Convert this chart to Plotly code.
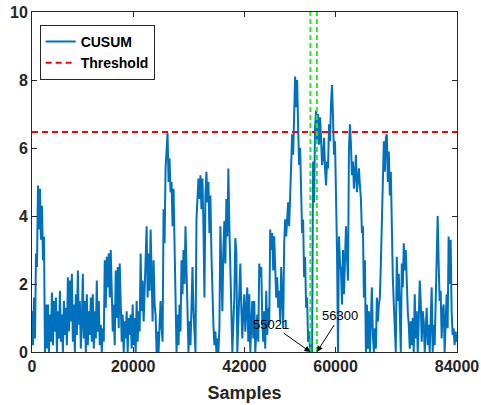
import numpy as np
import plotly.graph_objects as go

# CUSUM statistic, decimated (one value every `sample_step` samples)
cusum = [
    1.2, 0.2, 1.6, 0.4, 2.9, 2.5, 4.9, 3.6, 4.8, 3.3,
    4.3, 2.7, 3.4, 0.0, 1.4, 0.1, 1.4, 0.0, 1.1, 0.3,
    1.75, 0.2, 1.5, 0.6, 1.6, 0.0, 1.2, 0.4, 1.8, 0.3,
    1.1, 0.0, 1.5, 0.5, 1.3, 0.2, 2.2, 0.6, 2.1, 0.9,
    2.3, 0.3, 1.4, 0.0, 1.7, 0.5, 2.4, 0.8, 1.5, 0.1,
    0.9, 2.3, 0.4, 1.5, 0.0, 1.7, 0.2, 1.2, 0.5, 1.6,
    0.3, 1.7, 0.1, 1.2, 0.4, 2.1, 0.6, 1.5, 0.2, 0.8,
    0.0, 0.7, 0.3, 2.7, 1.3, 2.8, 1.9, 2.9, 1.6, 3.0,
    1.8, 0.6, 1.4, 0.2, 2.4, 1.0, 2.5, 0.7, 2.6, 1.2,
    0.3, 1.1, 0.0, 0.9, 0.4, 1.2, 0.0, 1.0, 0.5, 1.1,
    0.1, 1.4, 0.2, 1.0, 0.0, 1.5, 0.3, 1.2, 0.6, 2.9,
    1.2, 2.1, 0.9, 1.8, 2.6, 3.7, 1.6, 2.9, 1.8, 3.6,
    2.3, 0.9, 2.7, 1.4, 1.1, 0.0, 0.6, 0.0, 0.8, 1.5,
    0.7, 0.3, 4.2, 3.2, 5.4, 6.1, 6.45, 5.0, 5.7, 4.7,
    5.0, 3.7, 4.8, 3.2, 1.9, 0.0, 1.1, 0.2, 1.4, 0.6,
    2.7, 1.7, 3.0, 2.0, 3.7, 2.4, 1.5, 0.0, 0.9, 0.2,
    1.3, 2.5, 1.2, 0.5, 0.0, 3.9, 4.6, 5.1, 4.5, 5.2,
    4.2, 5.1, 3.7, 1.6, 4.6, 5.3, 4.4, 5.0, 3.5, 4.6,
    2.9, 1.6, 0.8, 0.2, 0.6, 0.0, 0.4, 0.0, 0.7, 3.7,
    2.4, 1.2, 3.0, 3.85, 2.6, 4.5, 3.4, 5.4, 3.7, 2.3,
    1.1, 0.0, 0.8, 1.6, 3.35, 2.9, 0.0, 0.9, 1.6, 2.6,
    1.3, 0.4, 1.2, 1.7, 0.6, 1.4, 1.9, 0.3, 1.7, 0.0,
    0.9, 1.5, 0.4, 1.5, 0.0, 0.7, 1.1, 0.3, 2.6, 2.2,
    2.5, 1.0, 0.3, 1.2, 0.1, 1.8, 0.5, 1.3, 0.8, 3.6,
    3.0, 3.5, 2.4, 3.4, 2.5, 1.6, 2.2, 1.3, 1.8, 0.9,
    2.5, 1.7, 0.7, 3.2, 3.9, 3.4, 3.9, 4.4, 3.7, 4.6,
    5.2, 6.4, 5.8, 6.9, 8.1, 7.2, 8.0, 6.6, 5.5, 6.0,
    4.6, 3.5, 3.9, 2.2, 2.8, 1.3, 1.6, 0.3, 0.6, 0.0,
    0.2, 0.0, 5.6, 4.4, 6.6, 7.1, 6.2, 7.0, 6.1, 6.9,
    6.3, 5.5, 5.7, 6.3, 5.4, 4.9, 5.6, 5.4, 6.7, 6.2,
    7.3, 7.85, 6.9, 5.8, 6.2, 4.7, 3.0, 0.0, 3.4, 2.6,
    2.4, 1.4, 3.0, 1.7, 2.8, 3.7, 2.8, 2.1, 6.0, 6.7,
    6.1, 5.2, 5.6, 4.8, 5.2, 5.8, 4.7, 5.0, 5.4, 4.9,
    4.5, 3.5, 3.7, 1.6, 2.7, 0.0, 1.4, 0.1, 1.2, 0.0,
    1.4, 1.9, 0.5, 0.0, 0.7, 0.1, 1.6, 0.9, 1.4, 1.6,
    2.6, 3.6, 5.0, 6.2, 5.3, 6.3, 6.4, 5.0, 5.9, 4.6,
    5.3, 3.4, 2.2, 1.4, 0.5, 0.0, 2.8, 1.5, 2.3, 0.6,
    0.0, 2.6, 1.9, 3.2, 2.4, 3.0, 1.9, 1.2, 0.8, 0.1,
    0.9, 0.2, 1.0, 0.0, 1.7, 0.4, 1.2, 0.0, 0.9, 2.1,
    1.5, 0.3, 1.2, 0.9, 0.0, 1.0, 1.3, 0.2, 0.8, 0.0,
    1.4, 1.9, 0.0, 0.8, 0.2, 1.3, 2.1, 4.0, 2.6, 1.5,
    1.8, 0.4, 1.2, 1.4, 0.0, 1.1, 1.7, 0.7, 3.4, 2.0,
    3.3, 1.2, 0.5, 0.7, 0.2, 0.6, 0.3,
]
sample_step = 197
threshold = 6.47
change_points = [55021, 56300]
change_labels = ["55021", "56300"]
x_ticks = [0, 20000, 42000, 60000, 84000]
x_ticktext = ["0", "20000", "42000", "60000", "84000"]
y_ticks = [0, 2, 4, 6, 8, 10]
x_max = 84000

samples = np.arange(len(cusum)) * sample_step

FONT = "Liberation Sans, Arial, sans-serif"
AX = "#262626"

fig = go.Figure()
fig.add_trace(go.Scatter(
    x=samples, y=cusum, mode="lines", name="CUSUM",
    line=dict(color="#0072BD", width=2), hoverinfo="skip"))
fig.add_trace(go.Scatter(
    x=[0, x_max], y=[threshold, threshold], mode="lines", name="Threshold",
    line=dict(color="#FF0000", width=2, dash="6px,4px")))
for cp in change_points:
    fig.add_trace(go.Scatter(
        x=[cp, cp], y=[0, 10], mode="lines", showlegend=False,
        line=dict(color="#22EE22", width=2, dash="5px,3px")))

# annotation text positions (tail of arrows)
label_pos = [(47240, 0.82), (60880, 1.06)]
for cp, lab, (ax, ay) in zip(change_points, change_labels, label_pos):
    fig.add_annotation(
        x=cp, y=0, ax=ax, ay=ay, axref="x", ayref="y", xref="x", yref="y",
        text=lab, showarrow=True, arrowhead=2, arrowsize=1.2, arrowwidth=1,
        arrowcolor="black", font=dict(family=FONT, size=13, color="black"))

fig.update_layout(
    width=481, height=405,
    margin=dict(l=32, r=24, t=12, b=53, autoexpand=False),
    plot_bgcolor="white", paper_bgcolor="white",
    font=dict(family=FONT, size=16, color=AX),
    showlegend=True,
    legend=dict(
        x=0.018, y=0.962, xanchor="left", yanchor="top",
        bgcolor="white", bordercolor=AX, borderwidth=1,
        itemwidth=30, tracegroupgap=0,
        font=dict(family=FONT, size=14, color="black", weight="bold")),
)
fig.update_xaxes(
    range=[0, x_max], tickvals=x_ticks, ticktext=x_ticktext,
    ticks="inside", ticklen=5, tickcolor=AX, showline=True, linecolor=AX,
    linewidth=1, mirror="ticks", showgrid=False, zeroline=False, automargin=False,
    tickfont=dict(family=FONT, size=16, color=AX, weight="bold"),
    title=dict(text="Samples", font=dict(family=FONT, size=18, color=AX, weight="bold"), standoff=12))
fig.update_yaxes(
    range=[0, 10], tickvals=y_ticks,
    ticks="inside", ticklen=5, tickcolor=AX, showline=True, linecolor=AX,
    linewidth=1, mirror="ticks", showgrid=False, zeroline=False, automargin=False,
    tickfont=dict(family=FONT, size=16, color=AX, weight="bold"))

fig.write_html("out.html")
